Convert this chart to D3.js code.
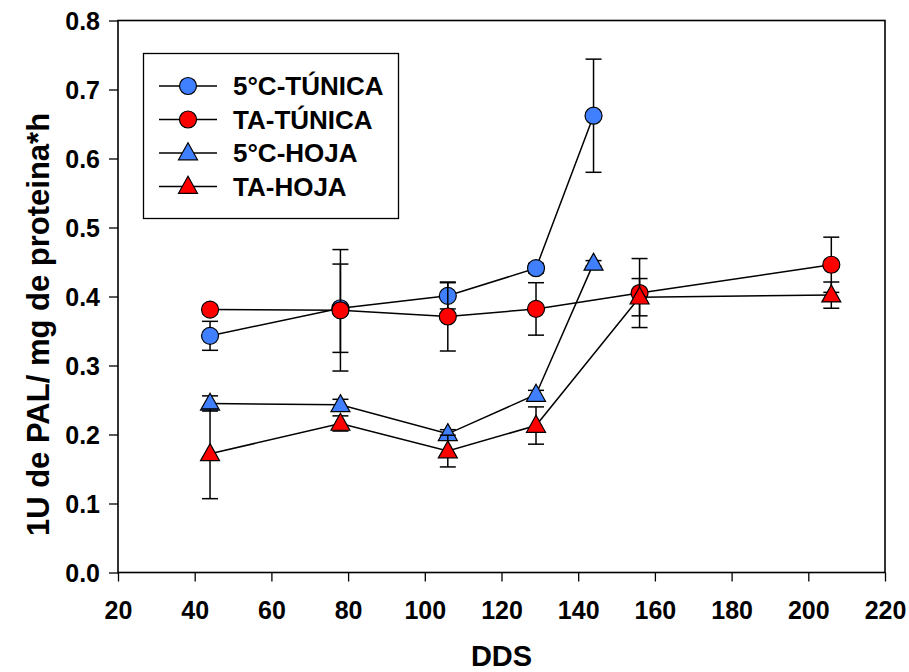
<!DOCTYPE html>
<html>
<head>
<meta charset="utf-8">
<script src="https://cdn.jsdelivr.net/npm/d3@7/dist/d3.min.js"></script>
<style>
  html, body { margin: 0; padding: 0; background: #fff; }
  svg { display: block; }
  text { font-family: "Liberation Sans", Arial, sans-serif; font-weight: bold; fill: #000; }
</style>
</head>
<body>
<div id="chart"></div>
<script>
// PAL activity (U / mg protein * h) against days (DDS)
const xTicks = [20, 40, 60, 80, 100, 120, 140, 160, 180, 200, 220];
const yTicks = [0, 0.1, 0.2, 0.3, 0.4, 0.5, 0.6, 0.7, 0.8];

const seriesNames = ["5°C-TÚNICA", "TA-TÚNICA", "5°C-HOJA", "TA-HOJA"];

const daysCold = [44, 78, 106, 129, 144];
const daysAmbient = [44, 78, 106, 129, 156, 206];

const coldTunica = [0.343, 0.383, 0.401, 0.441, 0.662];
const coldTunicaErr = [0.021, 0.064, 0.019, 0.007, 0.082];

const ambientTunica = [0.381, 0.380, 0.371, 0.382, 0.405, 0.446];
const ambientTunicaErr = [0.006, 0.088, 0.050, 0.038, 0.050, 0.040];

const coldHoja = [0.245, 0.243, 0.201, 0.258, 0.448];
const coldHojaErr = [0.011, 0.008, 0.006, 0.006, 0.004];

const ambientHoja = [0.172, 0.216, 0.176, 0.213, 0.399, 0.402];
const ambientHojaErr = [0.065, 0.011, 0.023, 0.027, 0.027, 0.019];

const blue = "#4080ff";
const red = "#ff0000";

const series = [
  { name: seriesNames[0], days: daysCold, values: coldTunica, err: coldTunicaErr, color: blue, shape: "circle" },
  { name: seriesNames[1], days: daysAmbient, values: ambientTunica, err: ambientTunicaErr, color: red, shape: "circle" },
  { name: seriesNames[2], days: daysCold, values: coldHoja, err: coldHojaErr, color: blue, shape: "triangle" },
  { name: seriesNames[3], days: daysAmbient, values: ambientHoja, err: ambientHojaErr, color: red, shape: "triangle" }
];

const width = 909, height = 672;
const margin = { left: 118, right: 24, top: 20.5, bottom: 99.5 };
const plotW = width - margin.left - margin.right;
const plotH = height - margin.top - margin.bottom;

const svg = d3.select("#chart").append("svg")
  .attr("width", width).attr("height", height);

const x = d3.scaleLinear().domain([20, 220]).range([margin.left, margin.left + plotW]);
const y = d3.scaleLinear().domain([0, 0.8]).range([margin.top + plotH, margin.top]);

const R = 8.5;          // circle radius
const TW = 19, TH = 17; // triangle width / height
function trianglePath() {
  return `M0,${-TH * 0.6}L${TW / 2},${TH * 0.4}L${-TW / 2},${TH * 0.4}Z`;
}
function drawMarker(g, shape, color, cx, cy) {
  if (shape === "circle") {
    g.append("circle").attr("cx", cx).attr("cy", cy).attr("r", R)
      .attr("fill", color).attr("stroke", "#000").attr("stroke-width", 1.2);
  } else {
    g.append("path").attr("d", trianglePath())
      .attr("transform", `translate(${cx},${cy})`)
      .attr("fill", color).attr("stroke", "#000").attr("stroke-width", 1.2)
      .attr("stroke-linejoin", "miter");
  }
}

// Axes: ticks on left and bottom, plain frame on top and right
const xAxis = d3.axisBottom(x).tickValues(xTicks).tickSize(9).tickFormat(d3.format("d"));
const yAxis = d3.axisLeft(y).tickValues(yTicks).tickSize(9).tickFormat(d3.format(".1f"));

const gx = svg.append("g").attr("transform", `translate(0,${margin.top + plotH})`).call(xAxis);
gx.select(".domain").remove();
gx.selectAll(".tick line").attr("stroke", "#000").attr("stroke-width", 1.3);
gx.selectAll(".tick text").attr("font-size", 25).attr("dy", 0).attr("y", 46)
  .style("font-family", "'Liberation Sans', Arial, sans-serif").style("font-weight", "bold");

const gy = svg.append("g").attr("transform", `translate(${margin.left},0)`).call(yAxis);
gy.select(".domain").remove();
gy.selectAll(".tick line").attr("stroke", "#000").attr("stroke-width", 1.3);
gy.selectAll(".tick text").attr("font-size", 25).attr("x", -18).attr("dy", "0.36em")
  .style("font-family", "'Liberation Sans', Arial, sans-serif").style("font-weight", "bold");

svg.append("rect")
  .attr("x", margin.left).attr("y", margin.top)
  .attr("width", plotW).attr("height", plotH)
  .attr("fill", "none").attr("stroke", "#000").attr("stroke-width", 1.6);

// Axis titles
svg.append("text")
  .attr("x", margin.left + plotW / 2).attr("y", 666)
  .attr("text-anchor", "middle").attr("font-size", 29)
  .text("DDS");

svg.append("text")
  .attr("transform", `translate(49,${margin.top + plotH / 2 + 28}) rotate(-90)`)
  .attr("text-anchor", "middle").attr("font-size", 31)
  .text("1U de PAL/ mg de proteina*h");

// Series: error bars, connecting line, markers
const line = d3.line().x(d => x(d[0])).y(d => y(d[1]));
const capHalf = 8;

series.forEach(s => {
  const g = svg.append("g");
  const pts = s.days.map((d, i) => [d, s.values[i], s.err[i]]);

  pts.forEach(p => {
    const cx = x(p[0]);
    const top = y(p[1] + p[2]), bot = y(p[1] - p[2]);
    g.append("line").attr("x1", cx).attr("x2", cx).attr("y1", top).attr("y2", bot)
      .attr("stroke", "#000").attr("stroke-width", 1.5);
    [top, bot].forEach(yy => {
      g.append("line").attr("x1", cx - capHalf).attr("x2", cx + capHalf)
        .attr("y1", yy).attr("y2", yy)
        .attr("stroke", "#000").attr("stroke-width", 1.5);
    });
  });

  g.append("path").datum(pts).attr("d", line)
    .attr("fill", "none").attr("stroke", "#000").attr("stroke-width", 1.5);

  pts.forEach(p => drawMarker(g, s.shape, s.color, x(p[0]), y(p[1])));
});

// Legend
const legend = svg.append("g");
legend.append("rect")
  .attr("x", 143.5).attr("y", 53.5).attr("width", 255).attr("height", 165)
  .attr("fill", "#fff").attr("stroke", "#000").attr("stroke-width", 1.3);

const rowY = [86, 119.5, 153, 186.5];
series.forEach((s, i) => {
  const ly = rowY[i];
  legend.append("line").attr("x1", 159).attr("x2", 217).attr("y1", ly).attr("y2", ly)
    .attr("stroke", "#000").attr("stroke-width", 1.5);
  drawMarker(legend, s.shape, s.color, 188, ly);
  legend.append("text").attr("x", 233).attr("y", ly).attr("dy", "0.36em")
    .attr("font-size", 26).text(s.name);
});
</script>
</body>
</html>
